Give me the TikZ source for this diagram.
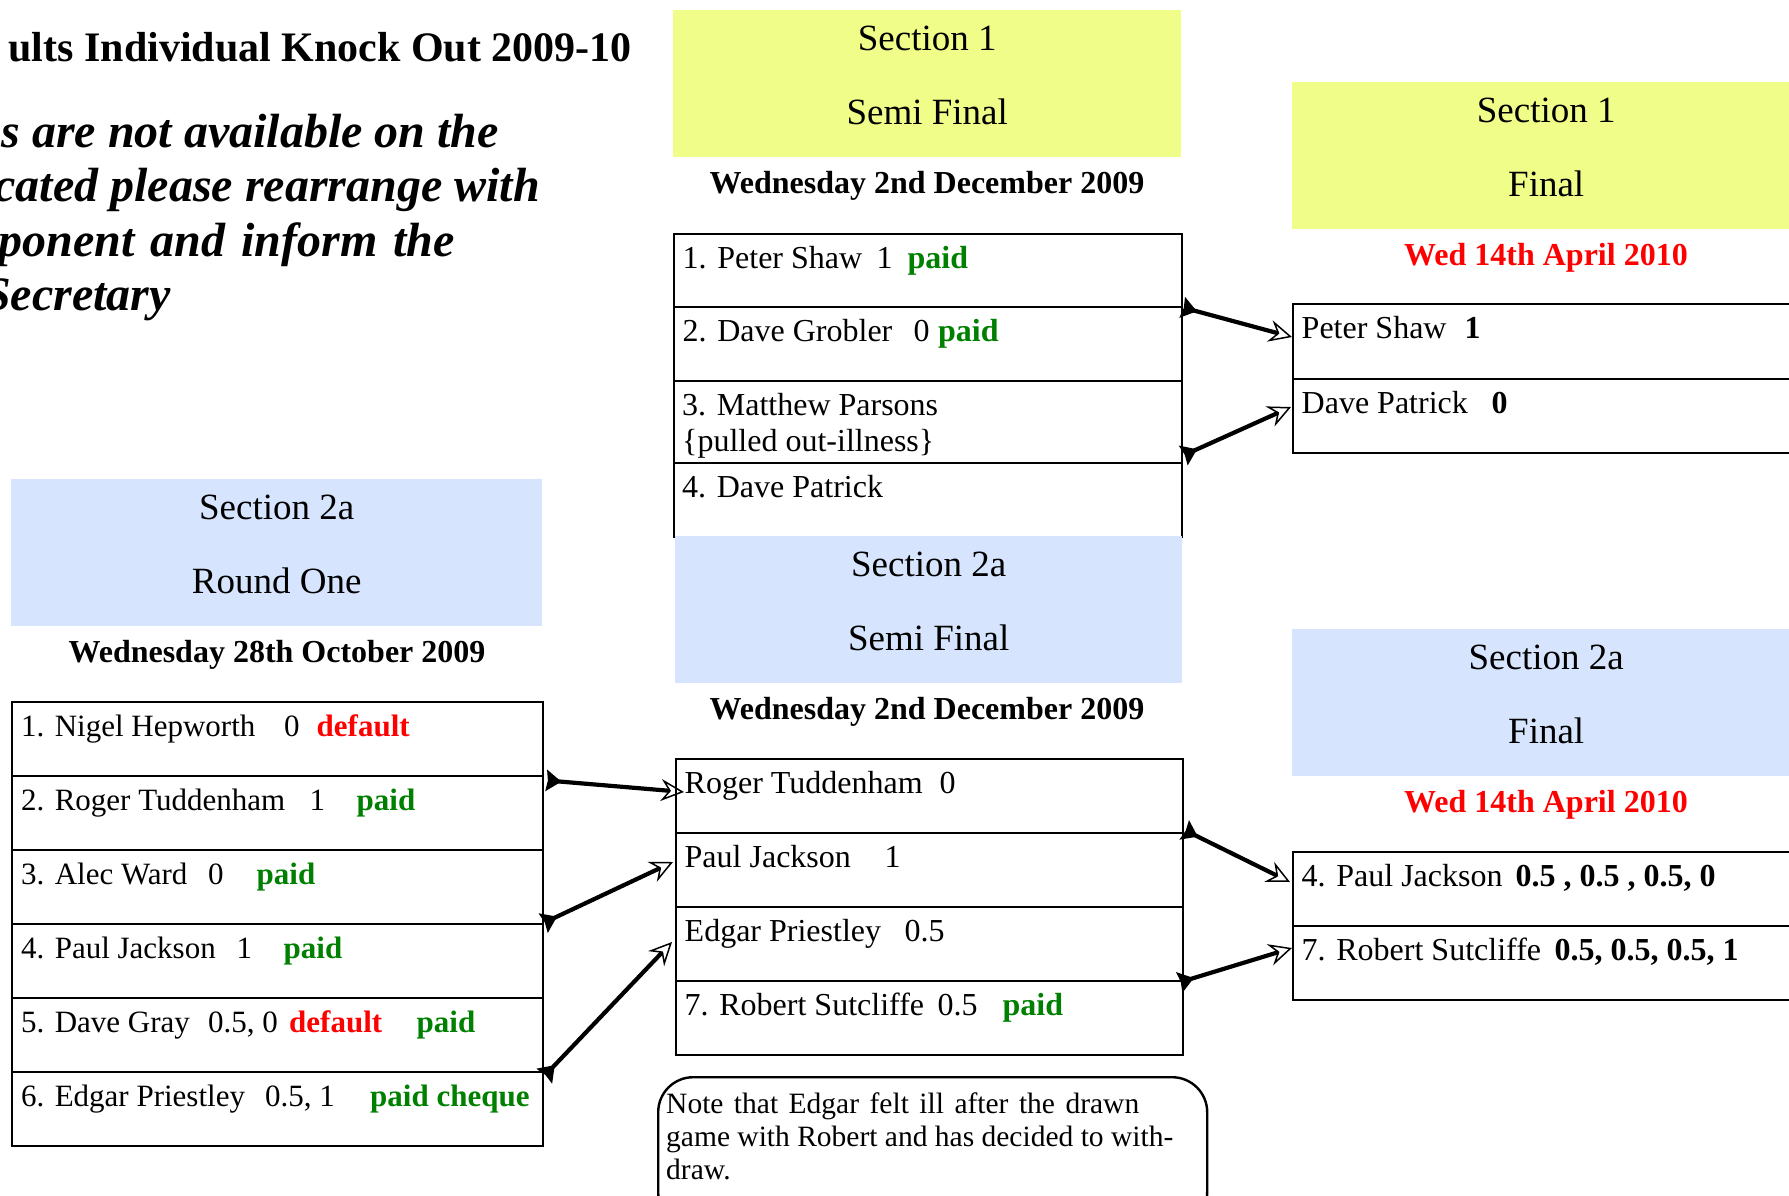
\documentclass[tikz,border=0pt]{standalone}
\usepackage{fontspec}
\setmainfont{Liberation Serif}
\usetikzlibrary{arrows.meta,calc}
\definecolor{hdryellow}{RGB}{240,253,136}
\definecolor{hdrblue}{RGB}{214,229,253}
\definecolor{paidgreen}{RGB}{0,128,0}
\definecolor{defred}{RGB}{255,0,0}
\newcommand\seg[2]{\makebox[0pt][l]{\hspace*{#1pt}#2}}
\newcommand\gr[1]{\textbf{\color{paidgreen}#1}}
\newcommand\rd[1]{\textbf{\color{defred}#1}}
\begin{document}
\begin{tikzpicture}[x=1pt,y=-1pt,
  hdr/.style={anchor=north west, inner sep=0, minimum width=508, minimum height=147},
  hdrtxt/.style={anchor=base, inner sep=0, font=\fontsize{37}{44}\selectfont},
  datetxt/.style={anchor=base, inner sep=0, font=\fontsize{32}{38}\selectfont\bfseries},
  rowbox/.style={draw, line width=2.4pt, anchor=north west, inner sep=0, minimum width=508, minimum height=74},
  rowtxt/.style={anchor=base west, inner sep=0, font=\fontsize{32}{38}\selectfont},
  rowtxtA/.style={anchor=base west, inner sep=0, font=\fontsize{31}{37}\selectfont},
  bigtxt/.style={anchor=base east, inner sep=0, font=\fontsize{48}{54}\selectfont\bfseries\itshape},
  notetxt/.style={anchor=base west, inner sep=0, font=\fontsize{29.5}{33}\selectfont},
  link/.style={line width=4.2pt,
    {Stealth[reversed,length=15pt,width=21pt,inset=1.5pt]}-{Stealth[open,length=23pt,width=22pt,inset=8pt,line width=1.5pt]}}
]
\useasboundingbox (0,0) rectangle (1789,1195);

% title and instructions
\node[anchor=base east, inner sep=0, font=\fontsize{42}{48}\selectfont\bfseries] (title) at (632,61) {ults Individual Knock Out 2009-10};
\node[bigtxt] (ins1) at (499,147) {s are not available on the};
\node[bigtxt] (ins2) at (540,201.5) {cated please rearrange with};
\node[bigtxt] (ins3) at (455,256) {ponent\hspace{16pt}and\hspace{16pt}inform\hspace{16pt}the};
\node[bigtxt] (ins4) at (171,310) {Secretary};

% ---------- Section 1 semi final ----------
\node[hdr, fill=hdryellow] (h1) at (673,10) {};
\node[hdrtxt] (h1a) at ($(h1.north)+(0,40)$) {Section 1};
\node[hdrtxt] (h1b) at ($(h1.north)+(0,114)$) {Semi Final};
\node[datetxt] (d1) at (927,193) {Wednesday 2nd December 2009};

\node[rowbox, minimum height=73] (s1r1) at (673,233) {};
\node[rowbox] (s1r2) at (673,306) {};
\node[rowbox, minimum height=82] (s1r3) at (673,380) {};
\node[rowbox] (s1r4) at (673,462) {};
\node[rowtxt] (s1t1) at ($(s1r1.north west)+(9,35)$) {\seg{0}{1. Peter Shaw}\seg{194}{1}\seg{225}{\gr{paid}}};
\node[rowtxt] (s1t2) at ($(s1r2.north west)+(9,35)$) {\seg{0}{2. Dave Grobler}\seg{231}{0}\seg{255.5}{\gr{paid}}};
\node[rowtxt] (s1t3) at ($(s1r3.north west)+(9,35)$) {3. Matthew Parsons};
\node[rowtxt] (s1t3b) at ($(s1r3.north west)+(9,71)$) {\{pulled out-illness\}};
\node[rowtxt] (s1t4) at ($(s1r4.north west)+(9,35)$) {4. Dave Patrick};

% ---------- Section 1 final ----------
\node[hdr, fill=hdryellow] (h2) at (1292,82) {};
\node[hdrtxt] (h2a) at ($(h2.north)+(0,40)$) {Section 1};
\node[hdrtxt] (h2b) at ($(h2.north)+(0,114)$) {Final};
\node[datetxt, text=defred] (d2) at (1546,265) {Wed 14th April 2010};

\node[rowbox, minimum height=75] (f1r1) at (1292,303) {};
\node[rowbox] (f1r2) at (1292,378) {};
\node[rowtxt] (f1t1) at ($(f1r1.north west)+(9,35)$) {\seg{0}{Peter Shaw}\seg{163}{\textbf{1}}};
\node[rowtxt] (f1t2) at ($(f1r2.north west)+(9,35)$) {\seg{0}{Dave Patrick}\seg{190}{\textbf{0}}};

% ---------- Section 2a round one ----------
\node[hdr, fill=hdrblue, minimum width=531] (h3) at (11,479) {};
\node[hdrtxt] (h3a) at ($(h3.north)+(0,40)$) {Section 2a};
\node[hdrtxt] (h3b) at ($(h3.north)+(0,114)$) {Round One};
\node[datetxt] (d3) at (277,662) {Wednesday 28th October 2009};

\node[rowbox, minimum width=531] (ro1) at (11,701) {};
\node[rowbox, minimum width=531] (ro2) at (11,775) {};
\node[rowbox, minimum width=531] (ro3) at (11,849) {};
\node[rowbox, minimum width=531] (ro4) at (11,923) {};
\node[rowbox, minimum width=531] (ro5) at (11,997) {};
\node[rowbox, minimum width=531] (ro6) at (11,1071) {};
\node[rowtxtA] (rot1) at ($(ro1.north west)+(9.5,35.5)$) {\seg{0}{1. Nigel Hepworth}\seg{263}{0}\seg{295.5}{\rd{default}}};
\node[rowtxtA] (rot2) at ($(ro2.north west)+(9.5,35.5)$) {\seg{0}{2. Roger Tuddenham}\seg{288.5}{1}\seg{335.5}{\gr{paid}}};
\node[rowtxtA] (rot3) at ($(ro3.north west)+(9.5,35.5)$) {\seg{0}{3. Alec Ward}\seg{187}{0}\seg{235.5}{\gr{paid}}};
\node[rowtxtA] (rot4) at ($(ro4.north west)+(9.5,35.5)$) {\seg{0}{4. Paul Jackson}\seg{215.5}{1}\seg{262.5}{\gr{paid}}};
\node[rowtxtA] (rot5) at ($(ro5.north west)+(9.5,35.5)$) {\seg{0}{5. Dave Gray}\seg{187}{0.5, 0}\seg{268}{\rd{default}}\seg{395.5}{\gr{paid}}};
\node[rowtxtA] (rot6) at ($(ro6.north west)+(9.5,35.5)$) {\seg{0}{6. Edgar Priestley}\seg{244}{0.5, 1}\seg{349}{\gr{paid cheque}}};

% ---------- Section 2a semi final ----------
\node[hdr, fill=hdrblue, minimum width=507] (h4) at (675,536) {};
\node[hdrtxt] (h4a) at ($(h4.north)+(0,40)$) {Section 2a};
\node[hdrtxt] (h4b) at ($(h4.north)+(0,114)$) {Semi Final};
\node[datetxt] (d4) at (927,719) {Wednesday 2nd December 2009};

\node[rowbox, minimum width=507] (s2r1) at (675,758) {};
\node[rowbox, minimum width=507] (s2r2) at (675,832) {};
\node[rowbox, minimum width=507] (s2r3) at (675,906) {};
\node[rowbox, minimum width=507] (s2r4) at (675,980) {};
\node[rowtxt] (s2t1) at ($(s2r1.north west)+(9,35)$) {\seg{0}{Roger Tuddenham}\seg{255}{0}};
\node[rowtxt] (s2t2) at ($(s2r2.north west)+(9,35)$) {\seg{0}{Paul Jackson}\seg{200}{1}};
\node[rowtxt] (s2t3) at ($(s2r3.north west)+(9,35)$) {\seg{0}{Edgar Priestley}\seg{220}{0.5}};
\node[rowtxt] (s2t4) at ($(s2r4.north west)+(9,35)$) {\seg{0}{7. Robert Sutcliffe}\seg{253}{0.5}\seg{318}{\gr{paid}}};

% ---------- Section 2a final ----------
\node[hdr, fill=hdrblue] (h5) at (1292,629) {};
\node[hdrtxt] (h5a) at ($(h5.north)+(0,40)$) {Section 2a};
\node[hdrtxt] (h5b) at ($(h5.north)+(0,114)$) {Final};
\node[datetxt, text=defred] (d5) at (1546,812) {Wed 14th April 2010};

\node[rowbox] (f2r1) at (1292,851) {};
\node[rowbox] (f2r2) at (1292,925) {};
\node[rowtxt] (f2t1) at ($(f2r1.north west)+(9,35)$) {\seg{0}{4. Paul Jackson}\seg{214}{\textbf{0.5 , 0.5 , 0.5, 0}}};
\node[rowtxt] (f2t2) at ($(f2r2.north west)+(9,35)$) {\seg{0}{7. Robert Sutcliffe}\seg{253}{\textbf{0.5, 0.5, 0.5, 1}}};

% ---------- note ----------
\node[draw, line width=2.4pt, rounded corners=35pt, anchor=north west, inner sep=0,
      minimum width=549, minimum height=150] (note) at (657,1076) {};
\node[notetxt] (n1) at ($(note.north west)+(9,37)$) {\makebox[473pt][s]{Note that Edgar felt ill after the drawn}};
\node[notetxt] (n2) at ($(note.north west)+(9,70)$) {game with Robert and has decided to with-};
\node[notetxt] (n3) at ($(note.north west)+(9,103)$) {draw.};

% ---------- connectors ----------
\draw[link] ($(s1r1.south east)+(-1,-1)$) -- ($(f1r1.north west)+(0,34)$);
\draw[link] ($(s1r3.south east)+(0,-9)$) -- ($(f1r2.north west)+(-1,29)$);
\draw[link] ($(ro1.south east)+(2,3)$) -- ($(s2r1.north west)+(9,34)$);
\draw[link] ($(ro4.north east)+(-1,0)$) -- ($(s2r2.north west)+(-2,30)$);
\draw[link] ($(ro6.north east)+(0,5)$) -- ($(s2r3.north west)+(-3,36)$);
\draw[link] ($(s2r2.north east)+(0,-2)$) -- ($(f2r1.north west)+(-2,31)$);
\draw[link] ($(s2r3.south east)+(-5,0)$) -- ($(f2r2.north west)+(0,23)$);
\end{tikzpicture}
\end{document}
